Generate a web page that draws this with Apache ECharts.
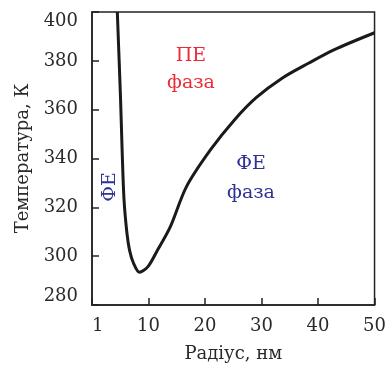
<!DOCTYPE html>
<html>
<head>
<meta charset="utf-8">
<script src="https://cdn.jsdelivr.net/npm/echarts@6/dist/echarts.min.js"></script>
<style>
  html, body { margin: 0; padding: 0; background: #fff; }
  #chart { width: 389px; height: 370px; }
</style>
</head>
<body>
<div id="chart"></div>
<script>
// радіус частинки, нм
const radius = [4.48, 5.06, 5.33, 5.67, 6.18, 6.64, 7.33, 8.4, 9.9, 11.6, 13.85, 16.7, 20.95, 25.2, 29.1, 33.7, 38.3, 42.8, 50];
// температура фазового переходу, К
const temp = [400, 363.9, 343.5, 323, 309.5, 302.5, 297.2, 293.4, 295.7, 302.5, 312, 328.4, 343.5, 355.8, 365, 373, 379, 384.5, 391.5];
const xTickLabels = ['1', '10', '20', '30', '40', '50'];

const serif = '"DejaVu Serif", "Liberation Serif", serif';
const axisColor = '#222';
const textColor = '#2a2a2a';

const chart = echarts.init(document.getElementById('chart'));
const option = {
  animation: false,
  grid: {
    left: 92,
    right: 3,
    top: 12,
    bottom: 65,
    show: true,
    borderColor: axisColor,
    borderWidth: 1.5
  },
  xAxis: {
    type: 'value',
    min: 0,
    max: 50,
    interval: 10,
    name: 'Радіус, нм',
    nameLocation: 'middle',
    nameGap: 40,
    nameTextStyle: { fontFamily: serif, fontSize: 18, color: textColor },
    axisLine: { lineStyle: { color: axisColor, width: 1.5 } },
    axisTick: { inside: true, length: 7, lineStyle: { color: axisColor, width: 1.5 } },
    splitLine: { show: false },
    axisLabel: {
      fontFamily: serif,
      fontSize: 18,
      color: textColor,
      margin: 12,
      alignMinLabel: 'left',
      formatter: v => xTickLabels[Math.round(v / 10)]
    }
  },
  yAxis: {
    type: 'value',
    min: 280,
    max: 400,
    interval: 20,
    name: 'Температура, К',
    nameLocation: 'middle',
    nameGap: 60,
    nameTextStyle: { fontFamily: serif, fontSize: 18, color: textColor },
    axisLine: { lineStyle: { color: axisColor, width: 1.5 } },
    axisTick: { inside: true, length: 7, lineStyle: { color: axisColor, width: 1.5 } },
    splitLine: { show: false },
    axisLabel: {
      fontFamily: serif,
      fontSize: 18,
      color: textColor,
      margin: 14,
      verticalAlignMinLabel: 'bottom',
      verticalAlignMaxLabel: 'top'
    }
  },
  series: [
    {
      type: 'line',
      data: radius.map((r, i) => [r, temp[i]]),
      showSymbol: false,
      smooth: 0.3,
      lineStyle: { color: '#1a1a1a', width: 3 }
    }
  ],
  graphic: [
    { type: 'text', x: 191, y: 56, style: { text: 'ПЕ', fill: '#ec2a36', font: '19px ' + serif, align: 'center', verticalAlign: 'middle' } },
    { type: 'text', x: 191, y: 83, style: { text: 'фаза', fill: '#ec2a36', font: '19px ' + serif, align: 'center', verticalAlign: 'middle' } },
    { type: 'text', x: 251, y: 164, style: { text: 'ФЕ', fill: '#2e3192', font: '19px ' + serif, align: 'center', verticalAlign: 'middle' } },
    { type: 'text', x: 251, y: 193, style: { text: 'фаза', fill: '#2e3192', font: '19px ' + serif, align: 'center', verticalAlign: 'middle' } },
    { type: 'text', x: 110, y: 187, rotation: Math.PI / 2, style: { text: 'ФЕ', fill: '#2e3192', font: '19px ' + serif, align: 'center', verticalAlign: 'middle' } }
  ]
};
chart.setOption(option);
</script>
</body>
</html>
